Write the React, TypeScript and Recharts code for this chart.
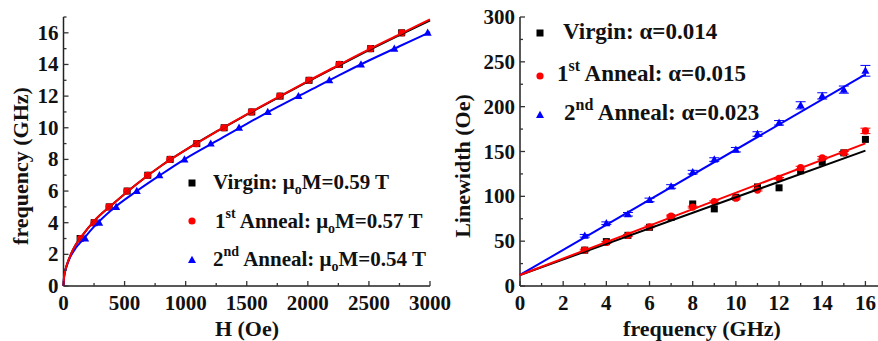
import React from 'react';
import { ScatterChart, Scatter, XAxis, YAxis, ErrorBar } from 'recharts';

// left panel: resonance field for each drive frequency
const fmrFreq = [3, 4, 5, 6, 7, 8, 9, 10, 11, 12, 13, 14, 15, 16];
const virginH = [136, 251, 374, 521, 690, 873, 1091, 1315, 1541, 1773, 2010, 2258, 2514, 2768];
const anneal1H = [140, 250, 372, 518, 688, 870, 1088, 1312, 1538, 1770, 2008, 2255, 2512, 2770];
const anneal2H = [177, 292, 431, 600, 785, 990, 1205, 1437, 1672, 1923, 2176, 2435, 2708, 2981];

// Kittel fits
const fitH = [0, 5, 15, 30, 60, 100, 150, 250, 400, 600, 800, 1000, 1250, 1500, 1750, 2000, 2250, 2500, 2750, 3000];
const virginFitF = [0, 0.6, 1.0, 1.4, 2.0, 2.6, 3.15, 4.1, 5.15, 6.45, 7.6, 8.6, 9.75, 10.83, 11.88, 12.92, 13.92, 14.9, 15.85, 16.78];
const anneal1FitF = [0, 0.6, 1.0, 1.4, 2.0, 2.6, 3.15, 4.1, 5.15, 6.45, 7.6, 8.6, 9.75, 10.85, 11.9, 12.95, 13.95, 14.95, 15.9, 16.85];
const anneal2FitF = [0, 0.58, 0.98, 1.35, 1.9, 2.4, 2.85, 3.75, 4.85, 6.0, 7.05, 8.05, 9.15, 10.25, 11.3, 12.3, 13.3, 14.25, 15.15, 16.05];

// right panel: linewidth vs frequency
const lwFreq = [3, 4, 5, 6, 7, 8, 9, 10, 11, 12, 13, 14, 15, 16];
const virginLw = [40, 49.5, 56.5, 65.5, 76.5, 91.5, 86, 99, 110.5, 109.5, 128.5, 138, 148.5, 163.5];
const anneal1Lw = [40, 48.5, 56.5, 66, 78, 88, 94, 98, 107, 120, 132, 143, 148.5, 173];
const anneal1Err = [1, 1, 1, 1, 1, 1, 1, 1, 1, 1, 1.5, 1.5, 1.5, 3];
const anneal2Lw = [56, 70, 80, 96, 111, 127, 141, 152, 169.5, 182, 201.5, 212, 219, 240];
const anneal2Err = [1.5, 1.5, 2, 2, 2, 2, 2, 2.5, 2.5, 2.5, 4, 3.5, 4, 6];

const fitFreq = [0, 16];
const virginFitLw = [12.3, 151];
const anneal1FitLw = [12.3, 159];
const anneal2FitLw = [12.3, 236];

// axis ticks (majors get labels)
const leftXTicks = [0, 250, 500, 750, 1000, 1250, 1500, 1750, 2000, 2250, 2500, 2750, 3000];
const leftXLabels = [0, 500, 1000, 1500, 2000, 2500, 3000];
const leftYTicks = [0, 1, 2, 3, 4, 5, 6, 7, 8, 9, 10, 11, 12, 13, 14, 15, 16, 17];
const leftYLabels = [0, 2, 4, 6, 8, 10, 12, 14, 16];
const rightXTicks = [0, 1, 2, 3, 4, 5, 6, 7, 8, 9, 10, 11, 12, 13, 14, 15, 16, 17];
const rightXLabels = [0, 2, 4, 6, 8, 10, 12, 14, 16];
const rightYTicks = [0, 25, 50, 75, 100, 125, 150, 175, 200, 225, 250, 275, 300];
const rightYLabels = [0, 50, 100, 150, 200, 250, 300];

const FONT = '"Liberation Serif", "Times New Roman", serif';
const BLACK = '#000000';
const RED = '#ff0000';
const BLUE = '#0000ff';
const AXIS = { stroke: '#222', strokeWidth: 1.5 };

const pts = (xs: number[], ys: number[], errs?: number[]) =>
    xs.map((x, i) => ({ x, y: ys[i], err: errs ? errs[i] : 0 }));

type Side = 'bottom' | 'top' | 'left' | 'right';

const makeTick = (side: Side, labels: number[], showText: boolean) => (props: any) => {
    const { x, y, payload } = props;
    const v = payload.value;
    const major = labels.includes(v);
    const len = major ? 5 : 3;
    let line = null;
    let text = null;
    if (side === 'bottom') {
        line = <line x1={x} x2={x} y1={y} y2={y - len} stroke="#333" strokeWidth={1.3} />;
        if (showText && major)
            text = (
                <text x={x} y={y + 24} textAnchor="middle" fontFamily={FONT} fontWeight="bold" fontSize={21} fill="#111">
                    {v}
                </text>
            );
    } else if (side === 'top') {
        line = <line x1={x} x2={x} y1={y} y2={y + len} stroke="#333" strokeWidth={1.3} />;
    } else if (side === 'left') {
        line = <line x1={x} x2={x + len} y1={y} y2={y} stroke="#333" strokeWidth={1.3} />;
        if (showText && major)
            text = (
                <text x={x - 5} y={y + 7} textAnchor="end" fontFamily={FONT} fontWeight="bold" fontSize={21} fill="#111">
                    {v}
                </text>
            );
    } else {
        line = <line x1={x} x2={x - len} y1={y} y2={y} stroke="#333" strokeWidth={1.3} />;
    }
    return (
        <g>
            {line}
            {text}
        </g>
    );
};

const square = (color: string) => (p: any) => (
    <rect x={p.cx - 3.5} y={p.cy - 3.5} width={7} height={7} fill={color} />
);
const dot = (color: string) => (p: any) => <circle cx={p.cx} cy={p.cy} r={3.6} fill={color} />;
const tri = (color: string) => (p: any) => (
    <polygon
        points={`${p.cx},${p.cy - 4.2} ${p.cx - 4},${p.cy + 3} ${p.cx + 4},${p.cy + 3}`}
        fill={color}
    />
);
const none = () => <g />;

const LeftPanel = () => (
    <ScatterChart width={470} height={341} margin={{ top: 17, right: 40, bottom: 0, left: 0 }}>
        <XAxis
            xAxisId={0}
            type="number"
            dataKey="x"
            domain={[0, 3000]}
            ticks={leftXTicks}
            interval={0}
            height={55}
            tickSize={0}
            tickMargin={0}
            tickLine={false}
            axisLine={AXIS}
            tick={makeTick('bottom', leftXLabels, true)}
        />
        <XAxis
            xAxisId="top"
            orientation="top"
            type="number"
            domain={[0, 3000]}
            allowDataOverflow
            ticks={leftXTicks}
            interval={0}
            height={0}
            tickSize={0}
            tickMargin={0}
            tickLine={false}
            axisLine={AXIS}
            tick={makeTick('top', leftXLabels, false)}
        />
        <YAxis
            yAxisId={0}
            type="number"
            dataKey="y"
            domain={[0, 17]}
            ticks={leftYTicks}
            interval={0}
            width={63.5}
            tickSize={0}
            tickMargin={0}
            tickLine={false}
            axisLine={AXIS}
            tick={makeTick('left', leftYLabels, true)}
        />
        <YAxis
            yAxisId="right"
            orientation="right"
            type="number"
            domain={[0, 17]}
            allowDataOverflow
            ticks={leftYTicks}
            interval={0}
            width={0}
            tickSize={0}
            tickMargin={0}
            tickLine={false}
            axisLine={AXIS}
            tick={makeTick('right', leftYLabels, false)}
        />
        <Scatter data={pts(virginH, fmrFreq)} shape={square(BLACK)} isAnimationActive={false} />
        <Scatter data={pts(anneal1H, fmrFreq)} shape={dot(RED)} isAnimationActive={false} />
        <Scatter data={pts(anneal2H, fmrFreq)} shape={tri(BLUE)} isAnimationActive={false} />
        <Scatter
            data={pts(fitH, virginFitF)}
            shape={none}
            line={{ stroke: BLACK, strokeWidth: 2 }}
            lineJointType="monotoneX"
            isAnimationActive={false}
        />
        <Scatter
            data={pts(fitH, anneal2FitF)}
            shape={none}
            line={{ stroke: BLUE, strokeWidth: 2 }}
            lineJointType="monotoneX"
            isAnimationActive={false}
        />
        <Scatter
            data={pts(fitH, anneal1FitF)}
            shape={none}
            line={{ stroke: RED, strokeWidth: 2 }}
            lineJointType="monotoneX"
            isAnimationActive={false}
        />
    </ScatterChart>
);

const RightPanel = () => (
    <ScatterChart width={447} height={341} margin={{ top: 17, right: 0, bottom: 0, left: 0 }}>
        <XAxis
            xAxisId={0}
            type="number"
            dataKey="x"
            domain={[0, 17]}
            ticks={rightXTicks}
            interval={0}
            height={55}
            tickSize={0}
            tickMargin={0}
            tickLine={false}
            axisLine={AXIS}
            tick={makeTick('bottom', rightXLabels, true)}
        />
        <XAxis
            xAxisId="top"
            orientation="top"
            type="number"
            domain={[0, 17]}
            allowDataOverflow
            ticks={rightXTicks}
            interval={0}
            height={0}
            tickSize={0}
            tickMargin={0}
            tickLine={false}
            axisLine={AXIS}
            tick={makeTick('top', rightXLabels, false)}
        />
        <YAxis
            yAxisId={0}
            type="number"
            dataKey="y"
            domain={[0, 300]}
            ticks={rightYTicks}
            interval={0}
            width={80}
            tickSize={0}
            tickMargin={0}
            tickLine={false}
            axisLine={AXIS}
            tick={makeTick('left', rightYLabels, true)}
        />
        <Scatter data={pts(lwFreq, virginLw)} shape={square(BLACK)} isAnimationActive={false} />
        <Scatter data={pts(lwFreq, anneal1Lw, anneal1Err)} shape={dot(RED)} isAnimationActive={false}>
            <ErrorBar dataKey="err" direction="y" width={5} stroke={RED} strokeWidth={1} />
        </Scatter>
        <Scatter data={pts(lwFreq, anneal2Lw, anneal2Err)} shape={tri(BLUE)} isAnimationActive={false}>
            <ErrorBar dataKey="err" direction="y" width={5} stroke={BLUE} strokeWidth={1} />
        </Scatter>
        <Scatter
            data={pts(fitFreq, virginFitLw)}
            shape={none}
            line={{ stroke: BLACK, strokeWidth: 2 }}
            isAnimationActive={false}
        />
        <Scatter
            data={pts(fitFreq, anneal2FitLw)}
            shape={none}
            line={{ stroke: BLUE, strokeWidth: 2 }}
            isAnimationActive={false}
        />
        <Scatter
            data={pts(fitFreq, anneal1FitLw)}
            shape={none}
            line={{ stroke: RED, strokeWidth: 2 }}
            isAnimationActive={false}
        />
    </ScatterChart>
);

const txt = { fontFamily: FONT, fontWeight: 'bold' as const, fill: '#111' };

const Overlay = () => (
    <svg width={878} height={341} style={{ position: 'absolute', left: 0, top: 0, pointerEvents: 'none' }}>
        {/* axis titles */}
        <text x={247} y={336} textAnchor="middle" fontSize={22} {...txt}>H (Oe)</text>
        <text transform="translate(28,166) rotate(-90)" textAnchor="middle" fontSize={22} {...txt}>
            frequency (GHz)
        </text>
        <text x={702} y={336} textAnchor="middle" fontSize={22} {...txt}>frequency (GHz)</text>
        <text transform="translate(470,166) rotate(-90)" textAnchor="middle" fontSize={22} {...txt}>
            Linewidth (Oe)
        </text>

        {/* left legend */}
        <rect x={188.5} y={179.5} width={7} height={7} fill={BLACK} />
        <circle cx={192} cy={221} r={3.6} fill={RED} />
        <polygon points="192,255.8 188,263 196,263" fill={BLUE} />
        <text x={213} y={189} fontSize={21} {...txt}>
            Virgin: μ<tspan fontSize={14} dy={5}>o</tspan>
            <tspan dy={-5}>M=0.59 T</tspan>
        </text>
        <text x={215} y={228} fontSize={21} {...txt}>
            1<tspan fontSize={14} dy={-10}>st</tspan>
            <tspan dy={10}> Anneal: μ</tspan>
            <tspan fontSize={14} dy={5}>o</tspan>
            <tspan dy={-5}>M=0.57 T</tspan>
        </text>
        <text x={213} y={266} fontSize={21} {...txt}>
            2<tspan fontSize={14} dy={-10}>nd</tspan>
            <tspan dy={10}> Anneal: μ</tspan>
            <tspan fontSize={14} dy={5}>o</tspan>
            <tspan dy={-5}>M=0.54 T</tspan>
        </text>

        {/* right legend */}
        <rect x={536.5} y={29.5} width={7} height={7} fill={BLACK} />
        <circle cx={540} cy={76} r={3.6} fill={RED} />
        <polygon points="540,110.8 536,118 544,118" fill={BLUE} />
        <text x={563} y={39} fontSize={23} {...txt}>Virgin: α=0.014</text>
        <text x={557} y={81} fontSize={23} {...txt}>
            1<tspan fontSize={16} dy={-10}>st</tspan>
            <tspan dy={10}> Anneal: α=0.015</tspan>
        </text>
        <text x={564} y={120} fontSize={23} {...txt}>
            2<tspan fontSize={16} dy={-10}>nd</tspan>
            <tspan dy={10}> Anneal: α=0.023</tspan>
        </text>
    </svg>
);

export default function App() {
    return (
        <div
            style={{
                position: 'absolute',
                left: 0,
                top: 0,
                width: 878,
                height: 341,
                overflow: 'hidden',
                background: '#fff',
            }}
        >
            <div style={{ position: 'absolute', left: 0, top: 0 }}>
                <LeftPanel />
            </div>
            <div style={{ position: 'absolute', left: 440, top: 0 }}>
                <RightPanel />
            </div>
            <Overlay />
        </div>
    );
}
